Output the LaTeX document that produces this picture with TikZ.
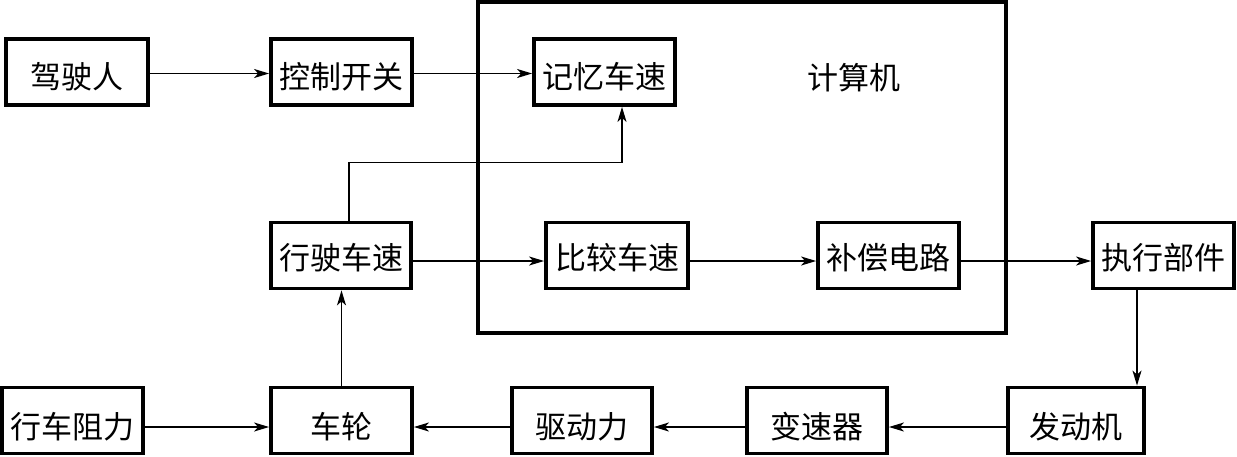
\documentclass[tikz,border=0pt]{standalone}
\usepackage{fontspec}
\newfontfamily\cjk{Noto Sans CJK SC}
\usetikzlibrary{arrows.meta}
\tikzset{
  box/.style={draw, line width=3.8pt, minimum height=66pt, inner sep=0pt},
  txt/.style={font=\cjk\fontsize{31}{33}\selectfont, inner sep=0pt},
  arr/.style={-{Stealth[length=15pt,width=9pt,inset=4pt]}, line width=1.5pt},
}
\begin{document}
\begin{tikzpicture}[x=1pt,y=-1pt]
\useasboundingbox (0,0) rectangle (1237,456);
% computer frame
\draw[line width=3.6pt] (478,2) rectangle (1006,333);
\node[txt] (cpu) at (854,78) {计算机};
% top row
\node[box, minimum width=142pt, label={[txt,yshift=-4.5pt]center:驾驶人}] (drv) at (77,72) {};
\node[box, minimum width=141pt, label={[txt,yshift=-4.5pt]center:控制开关}] (sw) at (341.5,72) {};
\node[box, minimum width=141pt, label={[txt,yshift=-4.5pt]center:记忆车速}] (mem) at (604.5,72) {};
% middle row
\node[box, minimum width=140pt, label={[txt,yshift=-2.5pt]center:行驶车速}] (spd) at (341,255.5) {};
\node[box, minimum width=142pt, label={[txt,yshift=-2.5pt]center:比较车速}] (cmpv) at (617,255.5) {};
\node[box, minimum width=141pt, label={[txt,yshift=-2.5pt]center:补偿电路}] (comp) at (888.5,255.5) {};
\node[box, minimum width=141pt, label={[txt,yshift=-2.5pt]center:执行部件}] (act) at (1163.5,255.5) {};
% bottom row
\node[box, minimum width=141pt, label={[txt,yshift=-6.5pt]center:行车阻力}] (res) at (72.5,420.5) {};
\node[box, minimum width=141pt, label={[txt,yshift=-6.5pt]center:车轮}] (wheel) at (341.5,420.5) {};
\node[box, minimum width=140pt, label={[txt,yshift=-6.5pt]center:驱动力}] (drvf) at (582,420.5) {};
\node[box, minimum width=140pt, label={[txt,yshift=-6.5pt]center:变速器}] (gear) at (817,420.5) {};
\node[box, minimum width=136pt, label={[txt,yshift=-6.5pt]center:发动机}] (eng) at (1076,420.5) {};
% connectors
\draw[arr] ([yshift=-1.5pt]drv.east) -- ([yshift=-1.5pt]sw.west);
\draw[arr] ([yshift=-1.5pt]sw.east) -- ([yshift=-1.5pt]mem.west);
\draw[arr] ([xshift=8pt]spd.north) -- ++(0,-58) -| ([xshift=17.5pt]mem.south);
\draw[arr] ([yshift=-5.5pt]spd.east) -- ([yshift=-5.5pt]cmpv.west);
\draw[arr] ([yshift=-5.5pt]cmpv.east) -- ([yshift=-5.5pt]comp.west);
\draw[arr] ([yshift=-5.5pt]comp.east) -- ([yshift=-5.5pt]act.west);
\draw[arr] ([xshift=-26.5pt]act.south) -- ([xshift=61pt]eng.north);
\draw[arr] ([yshift=-6.5pt]eng.west) -- ([yshift=-6.5pt]gear.east);
\draw[arr] ([yshift=-6.5pt]gear.west) -- ([yshift=-6.5pt]drvf.east);
\draw[arr] ([yshift=-6.5pt]drvf.west) -- ([yshift=-6.5pt]wheel.east);
\draw[arr] ([yshift=-6.5pt]res.east) -- ([yshift=-6.5pt]wheel.west);
\draw[arr, line width=1.2pt] (wheel.north) -- (wheel.north |- spd.south);
\end{tikzpicture}
\end{document}
